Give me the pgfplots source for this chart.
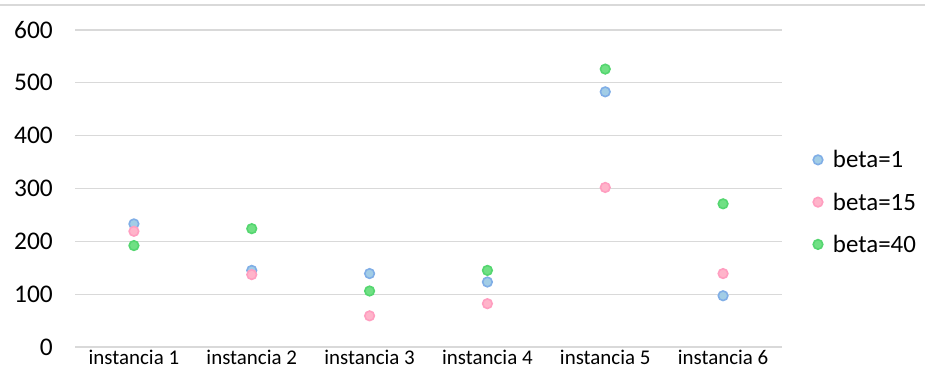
\documentclass[border=0pt]{standalone}
\usepackage{fontspec}
\setmainfont{Carlito}
\usepackage{pgfplots}
\pgfplotsset{compat=1.18}

\definecolor{gridgray}{HTML}{D9D9D9}
\definecolor{blueRing}{HTML}{80AEE6}
\definecolor{blueCore}{HTML}{A2CDE6}
\definecolor{pinkRing}{HTML}{FF9EC0}
\definecolor{pinkCore}{HTML}{FFB4CA}
\definecolor{greenRing}{HTML}{55D670}
\definecolor{greenCore}{HTML}{70E084}

\pgfplotstableread{
inst b1   b15  b40
1    233  219  192
2    145  137  224
3    139  59   106
4    123  82   145
5    483  302  526
6    97   139  271
}\scores

\begin{document}
\begin{tikzpicture}
\path[use as bounding box] (0bp,0bp) rectangle (925bp,390bp);
\draw[gridgray, line width=1.2bp] (0bp,385bp) -- (925bp,385bp);
\begin{axis}[
  at={(75bp,43bp)}, anchor=south west,
  scale only axis, width=707bp, height=317bp,
  xmin=0.5, xmax=6.5, ymin=0, ymax=600,
  xtick={1,...,6},
  xticklabels={instancia 1,instancia 2,instancia 3,instancia 4,instancia 5,instancia 6},
  ytick={0,100,...,600},
  ymajorgrids,
  major grid style={gridgray, line width=1.3bp},
  axis line style={draw=none},
  tick style={draw=none},
  /pgf/number format/assume math mode=true,
  yticklabel style={font=\fontsize{25.5}{30}\selectfont, anchor=east, inner sep=0pt, xshift=-22bp},
  xticklabel style={font=\fontsize{21}{25}\selectfont, anchor=north, inner sep=0pt, yshift=-3bp},
  legend style={at={(1,0.457)}, anchor=west, xshift=31bp, draw=none, fill=none,
    font=\fontsize{25}{30}\selectfont, row sep=19.5bp, inner sep=0pt},
  legend cell align=left,
  legend image code/.code={\draw[#1] plot coordinates {(0bp,0bp)};
    \path[draw=none] (0bp,0bp) -- (13bp,0bp);},
]
\addplot[only marks, mark=*, mark size=4.8bp, mark options={draw=blueRing, fill=blueCore, line width=1.6bp}] table[x=inst, y=b1] {\scores};
\addplot[only marks, mark=*, mark size=4.8bp, mark options={draw=pinkRing, fill=pinkCore, line width=1.6bp}] table[x=inst, y=b15] {\scores};
\addplot[only marks, mark=*, mark size=4.8bp, mark options={draw=greenRing, fill=greenCore, line width=1.6bp}] table[x=inst, y=b40] {\scores};
\legend{beta=1, beta=15, beta=40}
\end{axis}
\end{tikzpicture}
\end{document}
